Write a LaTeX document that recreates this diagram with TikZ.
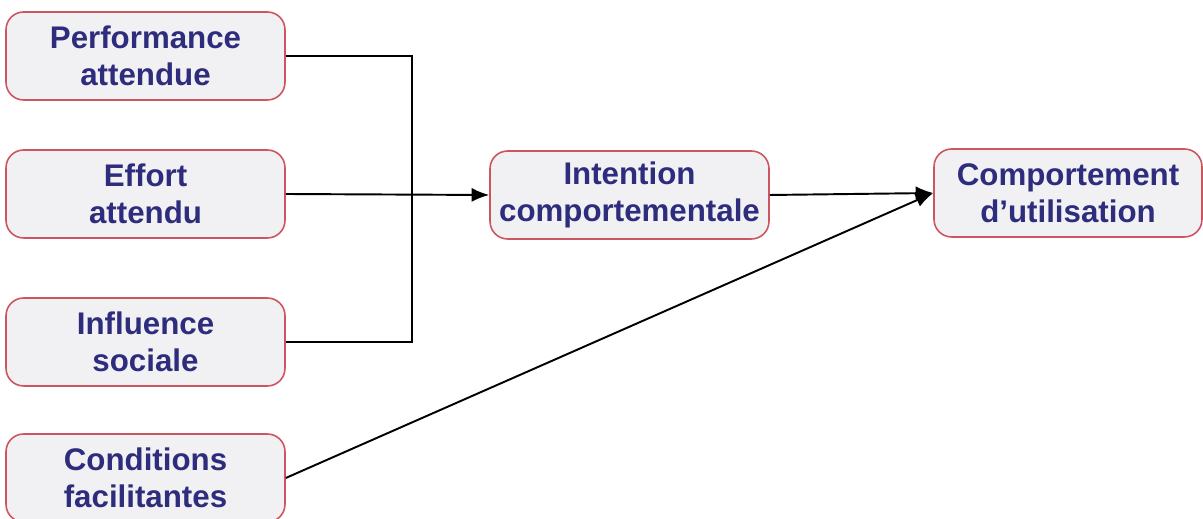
\documentclass[tikz,border=0pt]{standalone}
\usepackage{fontspec}
\setmainfont{Liberation Sans}
\usetikzlibrary{arrows.meta}

\definecolor{texteBleu}{RGB}{46,44,124}
\definecolor{bordRouge}{RGB}{205,85,95}
\definecolor{fondGris}{RGB}{241,241,243}

\begin{document}
\begin{tikzpicture}[x=0.02cm, y=-0.02cm,
  boite/.style={draw=bordRouge, fill=fondGris, rounded corners=10pt, line width=0.9pt,
    minimum width=5.58cm, minimum height=1.76cm, inner sep=0pt, align=center,
    text=texteBleu, font=\bfseries\fontsize{17.8}{21}\selectfont},
  fleche/.style={line width=1.1pt, -{Latex[length=10pt,width=8pt]}},
  trait/.style={line width=1.1pt}]
\useasboundingbox (0,0) rectangle (1203,519);

% Les quatre facteurs a gauche
\node[boite] (perf) at (145.5,56) {Performance\\attendue};
\node[boite] (effort) at (145.5,194) {Effort\\attendu};
\node[boite] (infl) at (145.5,342) {Influence\\sociale};
\node[boite] (cond) at (145.5,478) {Conditions\\facilitantes};

% Intention et comportement
\node[boite] (intent) at (629.5,195) {Intention\\comportementale};
\node[boite, minimum width=5.36cm] (comport) at (1068,193) {Comportement\\d'utilisation};

% Ligne verticale qui relie les trois premiers facteurs
\coordinate (jonction) at (412,194);
\draw[trait] (perf.east) -| (jonction) |- (infl.east);

\draw[fleche] (effort.east) -- (intent.west);
\draw[fleche] (intent.east) -- (comport.west);
\draw[fleche] (cond.east) -- (comport.west);

\end{tikzpicture}
\end{document}
